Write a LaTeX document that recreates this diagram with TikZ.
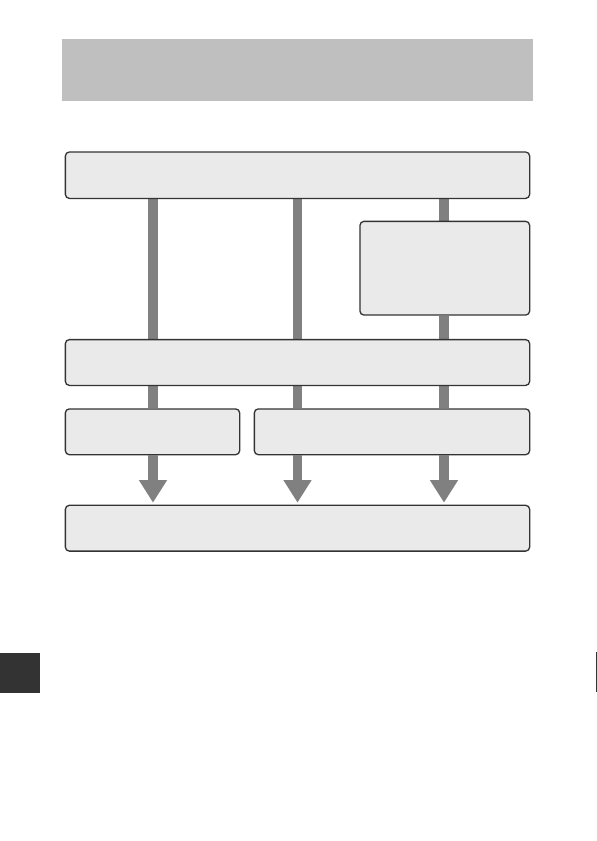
\documentclass[tikz,border=0pt]{standalone}
\usetikzlibrary{arrows.meta,backgrounds}
\definecolor{hdr}{HTML}{BFBFBF}
\definecolor{boxfill}{HTML}{EAEAEA}
\definecolor{boxline}{HTML}{333333}
\definecolor{barc}{HTML}{808080}
\definecolor{tab}{HTML}{333333}
\begin{document}
\begin{tikzpicture}[x=1pt,y=-1pt,
  flowbox/.style={draw=boxline,fill=boxfill,line width=1.3pt,rounded corners=4pt,inner sep=0pt,minimum height=45.8pt},
  bar/.style={draw=barc,line width=9.5pt},
  bararrow/.style={draw=barc,line width=9.5pt,-{Triangle[width=26.7pt,length=22.7pt]}}]
\useasboundingbox (0,0) rectangle (597,841);
% header band
\node[fill=hdr,inner sep=0pt,minimum width=471pt,minimum height=61.7pt] (header) at (297.5,69.85) {};
% boxes
\node[flowbox,minimum width=464.3pt,minimum height=46.4pt] (b1) at (297.5,175.2) {};
\node[flowbox,minimum width=169.7pt,minimum height=93.7pt] (rb) at (444.8,268.2) {};
\node[flowbox,minimum width=464.3pt] (b2) at (297.5,362.5) {};
\node[flowbox,minimum width=174.3pt] (b3a) at (152.5,431.8) {};
\node[flowbox,minimum width=275.3pt] (b3b) at (392,431.8) {};
\node[flowbox,minimum width=464.3pt] (b4) at (297.5,528.2) {};
% arrow tip points
\coordinate (t1) at (153,502.7);
\coordinate (t2) at (297.5,502.7);
\coordinate (t3) at (444,502.7);
\begin{scope}[on background layer]
\fill[white] (0,0) rectangle (597,841);
\draw[bar] (b1.south -| t1) -- (b2.north -| t1);
\draw[bar] (b1.south -| t2) -- (b2.north -| t2);
\draw[bar] (b1.south -| t3) -- (rb.north -| t3);
\draw[bar] (rb.south -| t3) -- (b2.north -| t3);
\draw[bar] (b2.south -| t1) -- (b3a.north -| t1);
\draw[bar] (b2.south -| t2) -- (b3b.north -| t2);
\draw[bar] (b2.south -| t3) -- (b3b.north -| t3);
\end{scope}
\draw[bararrow] (b3a.south -| t1) -- (t1);
\draw[bararrow] (b3b.south -| t2) -- (t2);
\draw[bararrow] (b3b.south -| t3) -- (t3);
% page tab and edge mark
\fill[tab] (0,653) rectangle (40,692.7);
\draw[boxline,line width=1pt] (596,652) -- (596,691.7);
\end{tikzpicture}
\end{document}
